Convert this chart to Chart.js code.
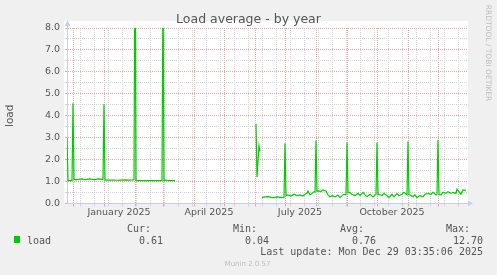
<!DOCTYPE html>
<html>
<head>
<meta charset="utf-8">
<title>Load average - by year</title>
<script src="https://cdn.jsdelivr.net/npm/chart.js@4.4.1/dist/chart.umd.min.js"></script>
<style>
  html, body { margin: 0; padding: 0; background: #f0f0f0; }
  canvas { display: block; }
</style>
</head>
<body>
<canvas id="myChart" width="497" height="275"></canvas>
<script>
// x values are days since 2024-11-25 (the graph spans 400 days), null = no data
const startDate = Date.UTC(2024, 10, 25);
const rangeDays = 400;

const day = [
  0, 1, 3, 5, 6, 7, 9, 12, 15, 17, 20, 23, 26, 29, 32, 35, 36, 37, 38, 42, 46, 50, 54, 58, 62, 66, 67,
  68, 69, 74, 80, 86, 92, 95, 96, 97, 99, 101, 104, 108,
  150,
  189, 190, 192, 193,
  194,
  195, 198, 201, 204, 206, 209, 211, 214, 217, 218, 219, 221, 224, 227, 230, 233, 236, 238, 240, 241,
  243, 245, 247, 248, 249, 250, 251, 254, 256, 259, 261, 263, 265, 268, 271, 273, 275, 277, 279, 280,
  281, 282, 285, 288, 291, 293, 296, 298, 300, 303, 306, 308, 309, 310, 311, 312, 315, 317, 320, 322,
  325, 327, 330, 332, 335, 337, 340, 341, 342, 343, 346, 348, 350, 353, 356, 358, 361, 364, 366, 369,
  370, 371, 372, 374, 376, 379, 381, 384, 386, 389, 390, 392, 394, 396, 398, 399
];
const load = [
  3.0, 1.04, 1.04, 1.04, 4.57, 1.10, 1.09, 1.10, 1.12, 1.09, 1.10, 1.12, 1.09, 1.10, 1.12, 1.10, 1.09, 4.53, 1.07, 1.07, 1.07, 1.06, 1.07, 1.08, 1.07, 1.08, 1.09,
  12.70, 1.04, 1.04, 1.04, 1.04, 1.04, 1.04, 10.2, 1.04, 1.07, 1.04, 1.04, 1.04,
  null,
  3.63, 1.20, 2.63, 2.37,
  null,
  0.27, 0.30, 0.31, 0.28, 0.27, 0.29, 0.30, 0.27, 0.28, 2.75, 0.36, 0.39, 0.34, 0.42, 0.36, 0.39, 0.34, 0.42, 0.46, 0.57,
  0.39, 0.46, 0.54, 0.52, 2.87, 0.55, 0.57, 0.54, 0.62, 0.57, 0.39, 0.31, 0.36, 0.30, 0.39, 0.27, 0.36, 0.42, 0.40, 2.78,
  0.48, 0.51, 0.42, 0.36, 0.46, 0.36, 0.51, 0.39, 0.31, 0.42, 0.30, 0.39, 0.40, 2.78, 0.42, 0.42, 0.36, 0.46, 0.36, 0.27,
  0.42, 0.30, 0.45, 0.36, 0.42, 0.51, 0.39, 2.84, 0.40, 0.39, 0.31, 0.39, 0.27, 0.36, 0.31, 0.42, 0.46, 0.42, 0.51, 0.39,
  0.42, 2.91, 0.40, 0.39, 0.51, 0.46, 0.54, 0.46, 0.51, 0.46, 0.66, 0.54, 0.42, 0.62, 0.60, 0.61
];

const monthLabels = ['January 2025', 'April 2025', 'July 2025', 'October 2025'];
const labelDates = ['2025-01-16', '2025-04-16', '2025-07-16', '2025-10-16'];
const statNames = ['Cur:', 'Min:', 'Avg:', 'Max:'];
const statValues = ['0.61', '0.04', '0.76', '12.70'];
const lastUpdate = 'Mon Dec 29 03:35:06 2025';

const majorGrid = '#eaa2a2';
const minorGrid = '#d4d4d4';
const axisColor = '#c9cdf4';

function toDay(ms) {
  return (ms - startDate) / 86400000;
}

function buildXTicks(scale) {
  const ticks = [];
  for (let d = 13; d < rangeDays; d += 14) {
    ticks.push({ value: d, kind: 'minor' });
  }
  for (let m = 0; m < 13; m++) {
    ticks.push({ value: toDay(Date.UTC(2024, 11 + m, 1)), kind: 'major' });
  }
  labelDates.forEach(function (s, i) {
    ticks.push({ value: toDay(Date.parse(s)), kind: 'label', text: monthLabels[i] });
  });
  ticks.sort(function (a, b) { return a.value - b.value; });
  scale.ticks = ticks;
}

function xGridColor(ctx) {
  const kind = ctx.tick && ctx.tick.kind;
  if (kind === 'major') return majorGrid;
  if (kind === 'minor') return minorGrid;
  return 'rgba(0,0,0,0)';
}

function yGridColor(ctx) {
  return ctx.tick && ctx.tick.value % 1 === 0 ? majorGrid : minorGrid;
}

// white canvas behind the plot, axis arrows and the rrdtool style legend
const munin = {
  id: 'munin',
  beforeDraw: function (chart) {
    const c = chart.ctx, a = chart.chartArea;
    c.save();
    c.fillStyle = '#ffffff';
    c.fillRect(a.left - 3, a.top - 7, a.right - a.left + 4, a.bottom - a.top + 7);
    c.restore();
  },
  afterDraw: function (chart) {
    const c = chart.ctx, a = chart.chartArea;
    const x0 = Math.floor(a.left) + 0.5, y0 = Math.floor(a.bottom) + 0.5;
    c.save();
    c.strokeStyle = axisColor;
    c.fillStyle = axisColor;
    c.lineWidth = 1;
    c.beginPath();
    c.moveTo(x0, a.top); c.lineTo(x0, a.top - 4);
    c.moveTo(a.right, y0); c.lineTo(a.right + 3, y0);
    c.stroke();
    c.beginPath();
    c.moveTo(x0, a.top - 8); c.lineTo(x0 - 3, a.top - 2); c.lineTo(x0 + 3, a.top - 2);
    c.closePath(); c.fill();
    c.beginPath();
    c.moveTo(a.right + 6, y0); c.lineTo(a.right + 1, y0 - 3); c.lineTo(a.right + 1, y0 + 3);
    c.closePath(); c.fill();

    c.fillStyle = '#555555';
    c.font = '10px "DejaVu Sans Mono"';
    c.textBaseline = 'alphabetic';
    c.textAlign = 'right';
    const nameX = [151, 257, 364, 470];
    const valueX = [163, 269, 376, 483];
    statNames.forEach(function (s, i) { c.fillText(s, nameX[i], 232); });
    statValues.forEach(function (s, i) { c.fillText(s, valueX[i], 243.5); });
    c.fillText('Last update: ' + lastUpdate, 483, 255);
    c.textAlign = 'left';
    c.fillText('load', 27, 243.5);
    c.fillStyle = '#00cc00';
    c.fillRect(14, 236, 6, 7);

    c.fillStyle = '#bdbdbd';
    c.font = '7px "DejaVu Sans"';
    c.textAlign = 'center';
    c.fillText('Munin 2.0.57', 247.5, 266);
    c.translate(488, 53);
    c.rotate(Math.PI / 2);
    c.font = '7.5px "DejaVu Sans"';
    c.textBaseline = 'middle';
    c.fillText('RRDTOOL / TOBI OETIKER', 0, 0);
    c.restore();
  }
};

function createChart() {
  const points = day.map(function (d, i) { return { x: d, y: load[i] }; });
  const ctx = document.getElementById('myChart').getContext('2d');
  const tickFont = { family: 'DejaVu Sans', size: 9.5 };
  return new Chart(ctx, {
    type: 'line',
    data: {
      datasets: [{
        label: 'load',
        data: points,
        borderColor: '#00cc00',
        borderWidth: 1.2,
        pointRadius: 0,
        tension: 0,
        spanGaps: false
      }]
    },
    options: {
      responsive: false,
      animation: false,
      layout: { padding: 0 },
      plugins: {
        legend: { display: false },
        tooltip: { enabled: false },
        title: {
          display: true,
          text: 'Load average - by year',
          color: '#555555',
          font: { family: 'DejaVu Sans', size: 12.5, weight: 'normal' },
          padding: { top: 12, bottom: 1 }
        }
      },
      scales: {
        x: {
          type: 'linear',
          min: 0,
          max: rangeDays,
          afterBuildTicks: buildXTicks,
          afterFit: function (s) { s.height = 71.5; },
          grid: { color: xGridColor, tickColor: xGridColor, tickLength: 3 },
          border: { color: axisColor, dash: [1, 1] },
          ticks: {
            autoSkip: false,
            maxRotation: 0,
            padding: 0,
            color: '#555555',
            font: tickFont,
            callback: function (v, i, ticks) { return ticks[i].text || ''; }
          }
        },
        y: {
          min: 0,
          max: 8,
          afterFit: function (s) { s.width = 67; },
          grid: { color: yGridColor, tickColor: yGridColor, tickLength: 2 },
          border: { color: axisColor, dash: [1, 1] },
          title: {
            display: true,
            text: 'load',
            color: '#555555',
            font: { family: 'DejaVu Sans', size: 10.5 },
            padding: { top: 4, bottom: 0 }
          },
          ticks: {
            stepSize: 0.5,
            autoSkip: false,
            padding: 5,
            color: '#555555',
            font: tickFont,
            callback: function (v) { return v % 1 === 0 ? v.toFixed(1) : ''; }
          }
        },
        side: {
          position: 'right',
          afterFit: function (s) { s.width = 30; },
          grid: { display: false },
          border: { display: false },
          ticks: { display: false }
        }
      }
    },
    plugins: [munin]
  });
}

createChart();
</script>
</body>
</html>
